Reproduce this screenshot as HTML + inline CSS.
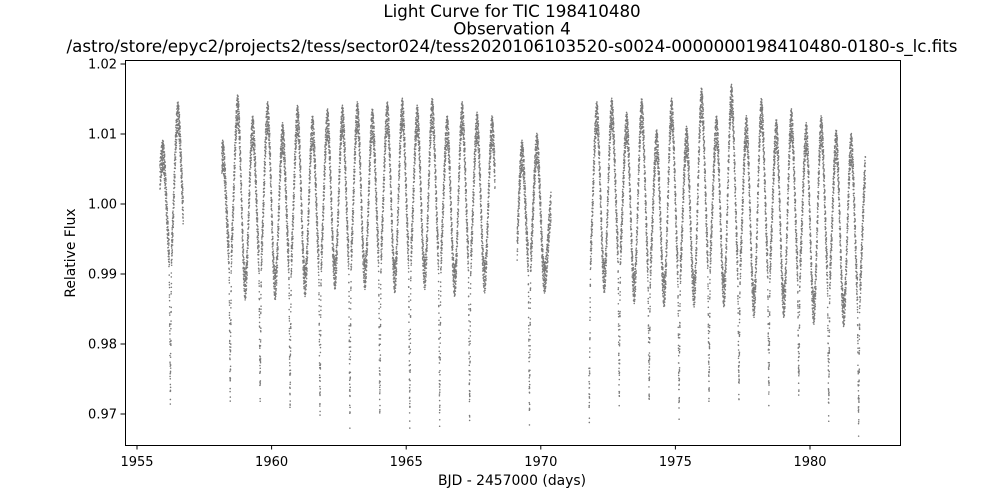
<!DOCTYPE html>
<html><head><meta charset="utf-8"><style>
html,body{margin:0;padding:0;background:#fff;}
svg{display:block;font-family:"DejaVu Sans","Liberation Sans",sans-serif;}
</style></head><body>
<svg id="chart" width="1000" height="500" viewBox="0 0 1000 500">
<rect x="0" y="0" width="1000" height="500" fill="#fff"/>
<g font-size="16.7" text-anchor="middle" fill="#000">
<text x="512" y="17">Light Curve for TIC 198410480</text>
<text x="512" y="34.5">Observation 4</text>
<text x="512" y="52">/astro/store/epyc2/projects2/tess/sector024/tess2020106103520-s0024-0000000198410480-0180-s_lc.fits</text>
</g>
<g id="points"></g>
<rect x="125.5" y="60.5" width="775" height="385" fill="none" stroke="#000" stroke-width="1"/>
<g id="xaxis"></g>
<g id="yaxis"></g>
<text x="512" y="485" font-size="13.9" text-anchor="middle">BJD - 2457000 (days)</text>
<text x="0" y="0" font-size="13.9" text-anchor="middle" transform="translate(75,253) rotate(-90)">Relative Flux</text>
</svg>
<script>
const xTicks = [1955, 1960, 1965, 1970, 1975, 1980];
const yTicks = [0.97, 0.98, 0.99, 1.00, 1.01, 1.02];
const yTickLabels = ["0.97", "0.98", "0.99", "1.00", "1.01", "1.02"];
const segments = [[1955.85, 1956.72], [1958.15, 1968.30], [1969.12, 1970.38], [1971.79, 1982.06]];
const T0 = 1958.741;
const period = 0.5558;
const firstCycle = -6;
const peakFlux = [1.005,1.007,1.0125,1.0,1.0,1.007,1.0135,1.0105,1.0125,1.0095,1.012,1.0105,1.0115,1.012,1.0125,1.0115,1.0125,1.013,1.012,1.013,1.0105,1.0125,1.011,1.0105,1.009,1.007,1.008,1.0,1.0,1.0,1.0125,1.013,1.011,1.013,1.0085,1.013,1.009,1.0145,1.0105,1.015,1.0105,1.013,1.010,1.0115,1.0095,1.0105,1.0085,1.008,1.0055];
const troughFlux = [0.998,0.992,0.996,0.991,0.991,0.992,0.9885,0.991,0.9885,0.9905,0.989,0.9905,0.990,0.991,0.990,0.9915,0.9895,0.9915,0.990,0.991,0.989,0.991,0.9895,0.9905,0.989,0.991,0.9895,0.991,0.991,0.991,0.9895,0.992,0.988,0.9895,0.9875,0.989,0.9875,0.991,0.9875,0.9895,0.986,0.990,0.986,0.9895,0.985,0.9885,0.9847,0.986,0.986];
const eclipseMin = [null,0.9726,null,0.972,null,0.9731,null,0.9731,null,0.9717,null,0.9707,null,0.9695,null,0.9705,null,0.9693,null,0.9695,null,0.970,null,0.970,null,0.970,null,0.97,null,0.97,null,0.9724,null,0.9726,null,0.971,null,0.9729,null,0.9731,null,0.9731,null,0.9738,null,0.9707,null,0.9686,null];
const scatter = [0.0016,-0.0011,0.0021,-0.0019,0.0005,-0.0003,0.0014,-0.0016,0.0008,-0.0022,0.0012,-0.0007,0.0,0.0019,-0.0013,0.0009,-0.0020,0.0017];

const NS = "http://www.w3.org/2000/svg";
function xScale(t){ return 137 + (t - 1955) * 26.92; }
function yScale(f){ return 64 + (1.02 - f) * 7000; }

function fluxAt(t){
  const k = Math.floor((t - T0) / period);
  const idx = k - firstCycle;
  const tk = T0 + k * period, half = period / 2;
  const pk = peakFlux[Math.max(0, Math.min(peakFlux.length-1, idx))];
  const pk1 = peakFlux[Math.max(0, Math.min(peakFlux.length-1, idx+1))];
  const tr = troughFlux[Math.max(0, Math.min(troughFlux.length-1, idx))];
  let f;
  if (t - tk <= half) f = tr + (pk - tr) * (1 + Math.cos(Math.PI * (t - tk) / half)) / 2;
  else f = tr + (pk1 - tr) * (1 + Math.cos(Math.PI * (tk + period - t) / half)) / 2;
  const em = eclipseMin[idx];
  if (em != null) {
    const dt = Math.abs(t - (tk + half)), W = 0.045;
    if (dt < W) f -= (tr - em) * (1 - dt / W);
  }
  return f;
}

const pts = document.getElementById('points');
let d = "", i = 0;
segments.forEach(function(seg){
  for (let t = seg[0]; t <= seg[1]; t += 0.001389) {
    const f = fluxAt(t) + scatter[i % scatter.length];
    d += "M" + xScale(t).toFixed(2) + " " + yScale(f).toFixed(2) + "h0";
    i++;
  }
});
const path = document.createElementNS(NS, 'path');
path.setAttribute('d', d);
path.setAttribute('stroke', '#7a7a7a');
path.setAttribute('stroke-width', '1.6');
path.setAttribute('stroke-linecap', 'round');
path.setAttribute('fill', 'none');


pts.appendChild(path);

const xa = document.getElementById('xaxis');
xTicks.forEach(function(v){
  const x = xScale(v);
  const ln = document.createElementNS(NS, 'line');
  ln.setAttribute('x1', x); ln.setAttribute('x2', x);
  ln.setAttribute('y1', 445); ln.setAttribute('y2', 449.5);
  ln.setAttribute('stroke', '#000');
  
  
  xa.appendChild(ln);
  const tx = document.createElementNS(NS, 'text');
  tx.setAttribute('x', x); tx.setAttribute('y', 466);
  tx.setAttribute('font-size', '13'); tx.setAttribute('text-anchor', 'middle');
  tx.textContent = String(v);
  
  
  xa.appendChild(tx);
});
const ya = document.getElementById('yaxis');
yTicks.forEach(function(v, j){
  const y = yScale(v);
  const ln = document.createElementNS(NS, 'line');
  ln.setAttribute('x1', 120.5); ln.setAttribute('x2', 125);
  ln.setAttribute('y1', y); ln.setAttribute('y2', y);
  ln.setAttribute('stroke', '#000');
  
  
  ya.appendChild(ln);
  const tx = document.createElementNS(NS, 'text');
  tx.setAttribute('x', 117); tx.setAttribute('y', y + 4.5);
  tx.setAttribute('font-size', '13'); tx.setAttribute('text-anchor', 'end');
  tx.textContent = yTickLabels[j];
  
  
  ya.appendChild(tx);
});
</script>
</body></html>
